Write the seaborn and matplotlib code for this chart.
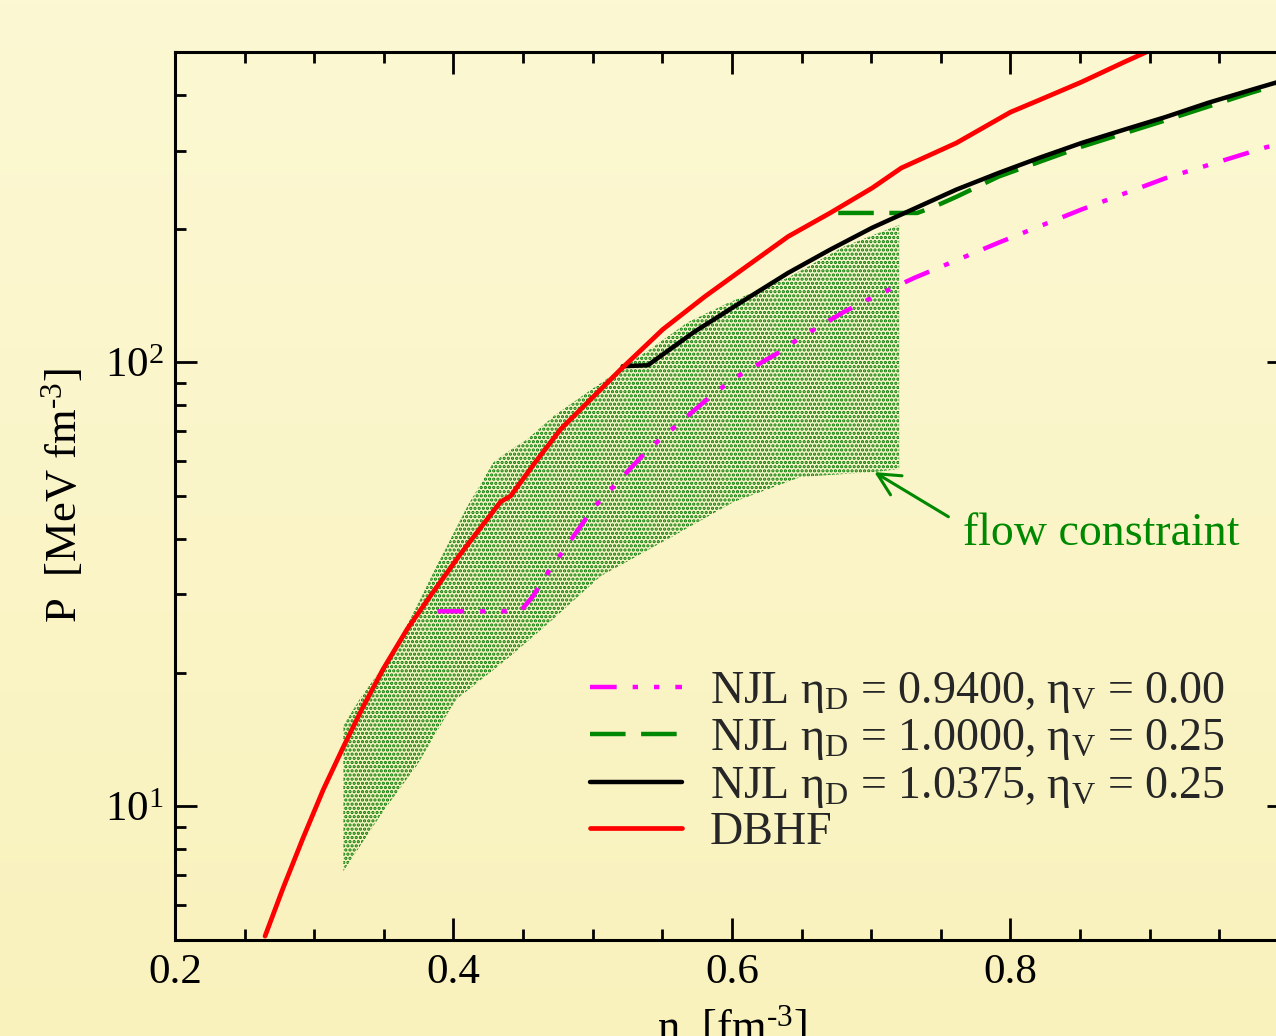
import numpy as np
import matplotlib
matplotlib.use("Agg")
import matplotlib.pyplot as plt
import seaborn as sns
from matplotlib.colors import LinearSegmentedColormap
from matplotlib.ticker import MultipleLocator, LogLocator, NullFormatter

# values: density n [fm^-3] and pressure P [MeV fm^-3]
dbhf_n = [0.2647, 0.2777, 0.2921, 0.3065, 0.3209, 0.3353, 0.3496, 0.3669, 0.3835, 0.405,
          0.4338, 0.441, 0.4604, 0.477, 0.4914, 0.5201, 0.5503, 0.5806, 0.6104, 0.6403,
          0.6705, 0.7007, 0.7216, 0.7612, 0.80, 0.8209, 0.8511, 0.8813, 0.8964, 0.92]
dbhf_p = [5.1, 6.55, 8.5, 10.9, 13.6, 16.8, 20.4, 25.1, 29.8, 37.0,
          48.5, 50.0, 60.5, 70.7, 78.4, 96.4, 118.6, 140.7, 164.4, 192.0,
          217.0, 247.0, 274.0, 312.0, 366.0, 390.0, 428.0, 474.0, 498.0, 540.0]

njl1_n = [0.5215, 0.5396, 0.5727, 0.6104, 0.6403, 0.6705, 0.7007, 0.731, 0.7612, 0.7914,
          0.8209, 0.8511, 0.8813, 0.9115, 0.9417, 0.9719, 0.9921, 1.0]
njl1_p = [98.0, 98.5, 117.0, 139.0, 159.0, 179.4, 201.0, 222.0, 245.0, 267.0,
          289.0, 312.0, 334.0, 357.0, 384.0, 410.0, 428.0, 436.0]

njl2_n = [0.6763, 0.733, 0.745, 0.7612, 0.7914, 0.8511, 0.9115, 0.9719, 0.9921, 1.0]
njl2_p = [217.0, 217.0, 224.0, 236.0, 262.0, 306.0, 351.0, 404.0, 422.0, 429.0]

njl3_n = [0.3885, 0.448, 0.457, 0.468, 0.501, 0.540, 0.585, 0.6014, 0.6331, 0.6496,
          0.6806, 0.7007, 0.731, 0.7914, 0.8511, 0.9115, 0.9834, 1.0]
njl3_p = [27.5, 27.5, 29.7, 33.7, 47.2, 63.7, 84.0, 92.0, 105.0, 114.0,
          130.0, 140.0, 155.0, 186.0, 221.0, 260.0, 305.0, 314.0]

# flow constraint band
band_up_n = [0.3209, 0.333, 0.3496, 0.369, 0.388, 0.41, 0.4288, 0.4388, 0.4532, 0.472,
             0.4964, 0.520, 0.544, 0.568, 0.597, 0.64, 0.68, 0.7201]
band_up_p = [15.2, 17.5, 20.7, 26.4, 34.8, 47.4, 59.6, 62.8, 67.2, 75.7,
             85.7, 96.5, 108.6, 123.0, 136.0, 155.0, 182.0, 204.0]
band_lo_n = [0.3209, 0.3496, 0.374, 0.3978, 0.4029, 0.4388, 0.4698, 0.5058, 0.554, 0.6014,
             0.6496, 0.702, 0.7201]
band_lo_p = [7.14, 9.75, 12.4, 16.6, 17.5, 21.5, 26.1, 33.0, 40.0, 48.5,
             55.2, 56.6, 57.5]

labels = [r"NJL η$_{D}$ = 0.9400, η$_{V}$ = 0.00",
          r"NJL η$_{D}$ = 1.0000, η$_{V}$ = 0.25",
          r"NJL η$_{D}$ = 1.0375, η$_{V}$ = 0.25",
          "DBHF"]

GREEN = "#008800"

sns.set_theme(style="ticks")
plt.rcParams["font.family"] = ["Liberation Serif", "DejaVu Serif"]
plt.rcParams["mathtext.fontset"] = "custom"
plt.rcParams["mathtext.rm"] = "Liberation Serif"
plt.rcParams["mathtext.it"] = "Liberation Serif:italic"
plt.rcParams["mathtext.default"] = "regular"
plt.rcParams["hatch.linewidth"] = 1.6

fig = plt.figure(figsize=(12.76, 10.36), dpi=100)

# pale yellow page with a slight vertical gradient
bg = fig.add_axes([0, 0, 1, 1], zorder=-10)
bg.imshow(np.linspace(0, 1, 256).reshape(-1, 1), aspect="auto", origin="lower",
          extent=[0, 1, 0, 1],
          cmap=LinearSegmentedColormap.from_list("page", ["#f9f2bd", "#fcf8d3"]))
bg.axis("off")

# right spine sits just outside the picture, as in the original
ax = fig.add_axes([0.1371, 0.0927, 0.8731, 0.8571])
ax.set_facecolor("none")

ax.fill(band_up_n + band_lo_n[::-1], band_up_p + band_lo_p[::-1],
        facecolor="none", edgecolor="#007a00", hatch="....", linewidth=0, zorder=1)

sns.lineplot(x=njl3_n, y=njl3_p, ax=ax, color="#ff00ff", lw=3.2, sort=False, estimator=None,
             linestyle=(0, (6, 3.6, 1.2, 3.6, 1.2, 3.6)), label=labels[0])
sns.lineplot(x=njl2_n, y=njl2_p, ax=ax, color=GREEN, lw=3.2, sort=False, estimator=None,
             linestyle=(0, (8.0, 3.5)), label=labels[1])
sns.lineplot(x=njl1_n, y=njl1_p, ax=ax, color="black", lw=3.2, sort=False, estimator=None,
             label=labels[2])
sns.lineplot(x=dbhf_n, y=dbhf_p, ax=ax, color="#ff0000", lw=3.4, sort=False, estimator=None,
             label=labels[3])

ax.set_yscale("log")
ax.set_xlim(0.2, 1.0)
ax.set_ylim(5, 500)
ax.set_xticks([0.2, 0.4, 0.6, 0.8, 1.0], labels=["0.2", "0.4", "0.6", "0.8", ""])
ax.xaxis.set_minor_locator(MultipleLocator(0.05))
ax.yaxis.set_major_locator(LogLocator(base=10))
ax.yaxis.set_minor_locator(LogLocator(base=10, subs=np.arange(2, 10)))
ax.yaxis.set_minor_formatter(NullFormatter())

ax.tick_params(which="both", direction="in", top=True, right=True, width=2, colors="black",
               labelsize=31)
ax.tick_params(which="major", length=16)
ax.tick_params(which="minor", length=8)
ax.tick_params(axis="x", pad=10)
ax.tick_params(axis="y", pad=8)
for s in ax.spines.values():
    s.set_linewidth(2.2)
    s.set_color("black")

ax.set_xlabel(r"n  [fm$^{\text{-3}}$]", fontsize=32, labelpad=8, color="black")
ax.set_ylabel(r"P  [MeV fm$^{\text{-3}}$]", fontsize=32, labelpad=14, color="black")

leg = ax.legend(handles=ax.lines[:4], labels=labels, loc="upper left",
                bbox_to_anchor=(0.3725, 0.304), frameon=False, fontsize=33,
                handlelength=2.0, handletextpad=0.62, labelspacing=0.05,
                borderpad=0, borderaxespad=0)

ax.annotate("", xy=(0.7022, 56.6), xytext=(0.7554, 44.9),
            arrowprops=dict(arrowstyle="->", color=GREEN, lw=2.2, mutation_scale=40,
                            shrinkA=0, shrinkB=0))
ax.text(0.7662, 38.8, "flow constraint", color=GREEN, fontsize=33, va="baseline")

fig.savefig("out.png", dpi=100)
